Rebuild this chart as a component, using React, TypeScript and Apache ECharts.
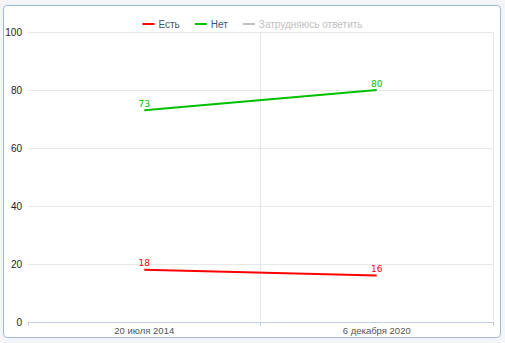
import React, { useEffect, useRef } from "react";
import * as echarts from "echarts";

const categories = ["20 июля 2014", "6 декабря 2020"];
const seriesNames = ["Есть", "Нет", "Затрудняюсь ответить"];
const yesValues = [18, 16];
const noValues = [73, 80];
const hardValues: number[] = [];
const yTicks = { min: 0, max: 100, interval: 20 };

export default function App() {
  const ref = useRef<HTMLDivElement>(null);
  useEffect(() => {
    if (!ref.current) return;
    const chart = echarts.init(ref.current, undefined, { renderer: "svg" });
    const labelStyle = (color: string) => ({
      show: true,
      position: "top" as const,
      distance: 2,
      color,
      fontSize: 9,
      fontFamily: "DejaVu Sans",
    });
    chart.setOption({
      animation: false,
      legend: {
        top: 14,
        left: "center",
        icon: "rect",
        itemWidth: 12,
        itemHeight: 2,
        itemGap: 15,
        textStyle: { color: "#3e576f", fontSize: 10, fontFamily: "Liberation Sans", padding: [0, 0, 0, -1] },
        inactiveColor: "#c0c0c0",
        selected: { [seriesNames[2]]: false },
        data: seriesNames,
      },
      grid: { left: 28, right: 12, top: 32, bottom: 21 },
      xAxis: {
        type: "category",
        data: categories,
        boundaryGap: true,
        axisLine: { lineStyle: { color: "#c0d0e0", width: 1 } },
        axisTick: { show: true, length: 4, lineStyle: { color: "#c0d0e0" } },
        axisLabel: { color: "#555", fontSize: 9.5, fontFamily: "Liberation Sans", margin: 3 },
        splitLine: { show: true, showMinLine: false, lineStyle: { color: "#e3e8ef" } },
      },
      yAxis: {
        type: "value",
        min: yTicks.min,
        max: yTicks.max,
        interval: yTicks.interval,
        axisLine: { show: false },
        axisTick: { show: false },
        axisLabel: { color: "#222", fontSize: 10, fontFamily: "Liberation Sans", margin: 6 },
        splitLine: { lineStyle: { color: "#e8e8e8" } },
      },
      series: [
        {
          name: seriesNames[0],
          type: "line",
          data: yesValues,
          color: "#ff0000",
          lineStyle: { width: 2 },
          symbol: "circle",
          symbolSize: 0,
          showSymbol: true,
          label: labelStyle("#ff0000"),
        },
        {
          name: seriesNames[1],
          type: "line",
          data: noValues,
          color: "#00c000",
          lineStyle: { width: 2 },
          symbol: "circle",
          symbolSize: 0,
          showSymbol: true,
          label: labelStyle("#00c000"),
        },
        {
          name: seriesNames[2],
          type: "line",
          data: hardValues,
          color: "#c0c0c0",
        },
      ],
    });
    return () => chart.dispose();
  }, []);
  return (
    <div style={{ position: "fixed", left: 0, top: 0, width: 505, height: 343, background: "#f3f5f8" }}>
      <div
        style={{
          position: "absolute",
          left: 3,
          top: 5,
          width: 496,
          height: 331,
          border: "1px solid #9fb9d9",
          borderRadius: 4,
          background: "#fff",
        }}
      />
      <div ref={ref} style={{ position: "absolute", left: 0, top: 0, width: 505, height: 343 }} />
    </div>
  );
}
